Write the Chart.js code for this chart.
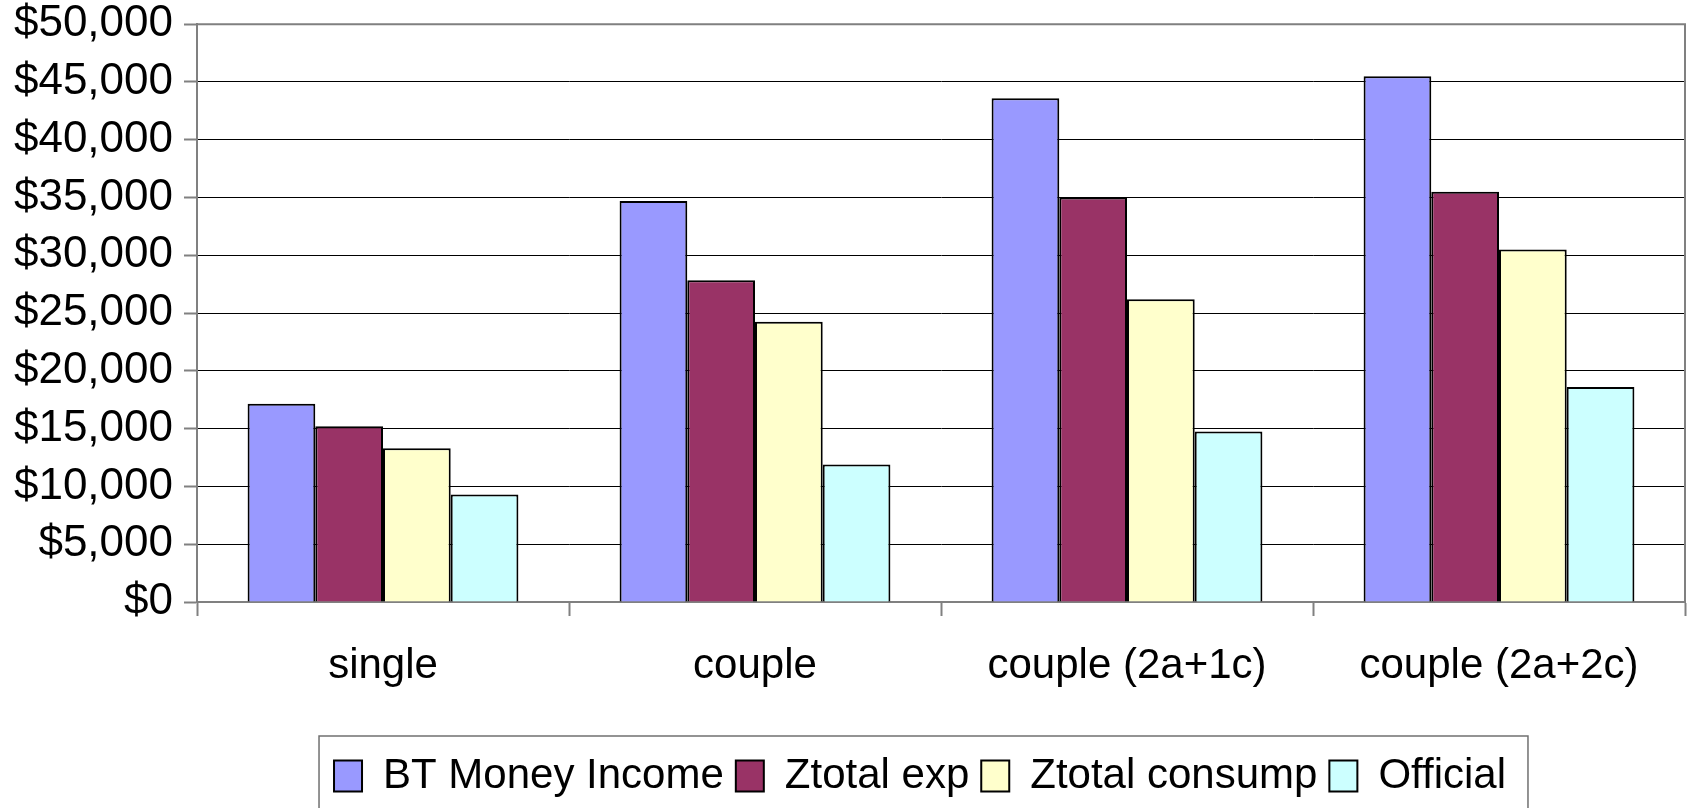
<!DOCTYPE html>
<html>
<head>
<meta charset="utf-8">
<script src="https://cdn.jsdelivr.net/npm/chart.js@4.4.1/dist/chart.umd.min.js"></script>
<style>
  html, body { margin: 0; padding: 0; background: #fff; }
  #wrap { width: 1692px; height: 808px; }
</style>
</head>
<body>
<div id="wrap"><canvas id="povertyChart" width="1692" height="808"></canvas></div>
<script>
var categories = ['single', 'couple', 'couple (2a+1c)', 'couple (2a+2c)'];
var btMoneyIncome = [17150, 34700, 43600, 45500];
var ztotalExp = [15200, 27850, 35000, 35500];
var ztotalConsump = [13300, 24250, 26200, 30500];
var official = [9300, 11900, 14750, 18600];
var yTickLabels = ['$0', '$5,000', '$10,000', '$15,000', '$20,000', '$25,000',
                   '$30,000', '$35,000', '$40,000', '$45,000', '$50,000'];

var FONT = "'Liberation Sans', Arial, sans-serif";
var LEGEND_LEFT = 155;

// plot frame (top / right edge) and the box round the legend
var framePlugin = {
    id: 'frame',
    afterLayout: function(chart){
        // legend row sits a bit right of the page centre, like the original
        chart.legend.left = LEGEND_LEFT;
    },
    afterDraw: function(chart){
        var ctx = chart.ctx;
        var a = chart.chartArea;
        ctx.save();
        ctx.strokeStyle = '#808080';
        ctx.lineWidth = 2;
        ctx.beginPath();
        ctx.moveTo(a.left, a.top);
        ctx.lineTo(a.right, a.top);
        ctx.lineTo(a.right, a.bottom);
        ctx.stroke();

        var boxes = chart.legend.legendHitBoxes;
        if(boxes && boxes.length){
            var first = boxes[0];
            var last = boxes[boxes.length - 1];
            var left = first.left - 15;
            var right = last.left + last.width + 22;
            var top = first.top + first.height / 2 - 40;
            ctx.strokeStyle = '#707070';
            ctx.lineWidth = 1.5;
            ctx.beginPath();
            ctx.moveTo(left, chart.height + 2);
            ctx.lineTo(left, top);
            ctx.lineTo(right, top);
            ctx.lineTo(right, chart.height + 2);
            ctx.stroke();
        }
        ctx.restore();
    }
};

function series(label, values, color){
    return {
        label: label,
        data: values,
        backgroundColor: color,
        borderColor: '#000000',
        borderWidth: 2
    };
}

const CHART = document.getElementById('povertyChart');
let barChart = new Chart(CHART, {
    type: 'bar',
    data: {
        labels: categories,
        datasets: [
            series('BT Money Income', btMoneyIncome, '#9999FF'),
            series('Ztotal exp', ztotalExp, '#993366'),
            series('Ztotal consump', ztotalConsump, '#FFFFCC'),
            series('Official', official, '#CCFFFF')
        ]
    },
    options: {
        responsive: false,
        animation: false,
        devicePixelRatio: 1,
        layout: { padding: { left: 0, right: 7, top: 0, bottom: 1 } },
        datasets: {
            bar: { categoryPercentage: 0.728, barPercentage: 1.0 }
        },
        plugins: {
            tooltip: { enabled: false },
            legend: {
                position: 'bottom',
                align: 'center',
                labels: {
                    color: '#000',
                    font: { family: FONT, size: 42 },
                    boxWidth: 28,
                    boxHeight: 31,
                    padding: 12
                }
            }
        },
        scales: {
            x: {
                grid: {
                    drawOnChartArea: false,
                    drawTicks: true,
                    tickLength: 14,
                    tickColor: '#808080',
                    tickWidth: 2,
                    offset: true
                },
                border: { color: '#808080', width: 2 },
                ticks: {
                    color: '#000',
                    font: { family: FONT, size: 42 },
                    padding: 25,
                    maxRotation: 0,
                    autoSkip: false
                },
                afterFit: function(scale){ scale.height = 141; }
            },
            y: {
                min: 0,
                max: 50000,
                grid: {
                    color: '#000000',
                    lineWidth: 1,
                    tickLength: 13,
                    tickColor: '#808080',
                    tickWidth: 2
                },
                border: { color: '#808080', width: 2 },
                ticks: {
                    stepSize: 5000,
                    color: '#000',
                    font: { family: FONT, size: 44, lineHeight: 0.6 },
                    padding: 11,
                    callback: function(value, index){ return yTickLabels[index]; }
                },
                afterFit: function(scale){ scale.width = 197; }
            }
        }
    },
    plugins: [framePlugin]
});
</script>
</body>
</html>
